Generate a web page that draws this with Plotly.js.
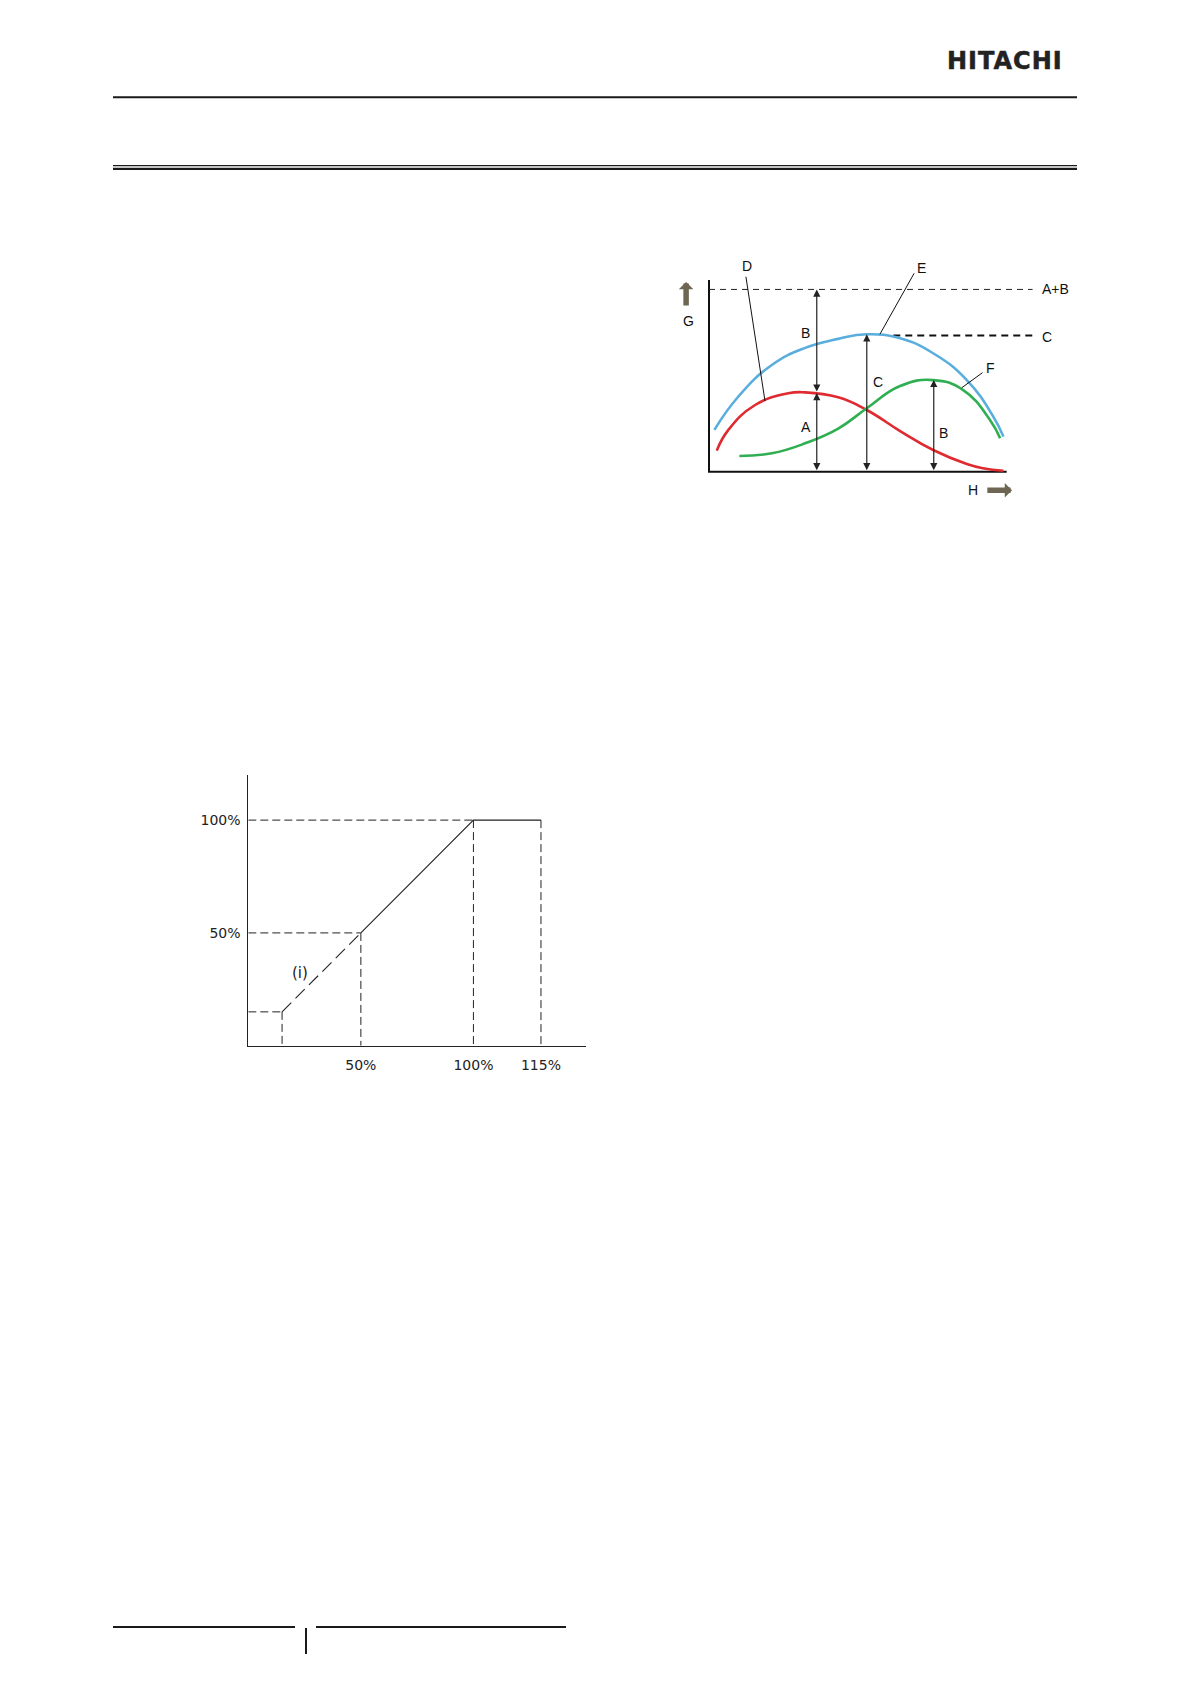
<!DOCTYPE html>
<html><head><meta charset="utf-8">
<script src="https://cdn.plot.ly/plotly-3.0.1.min.js"></script>
<style>
html,body{margin:0;padding:0;background:#fff;}
#page{width:1191px;height:1684px;}
text[data-unformatted="HITACHI"]{letter-spacing:1px;stroke:#222;stroke-width:0.5px;}
</style></head><body><div id="page"></div>
<script>
// ===== Chart 1 (G against H), schematic units: axes run 0..100 =====
const curveE_x = [1.8, 9.8, 21.1, 32.3, 43.4, 53.0, 64.2, 75.3, 86.6, 95.5, 98.9];
const curveE_y = [21.8, 39.1, 55.7, 64.6, 69.3, 71.7, 69.6, 61.8, 47.8, 28.7, 18.3];
const curveD_x = [2.6, 6.5, 15.5, 26.6, 32.3, 43.4, 53.0, 64.2, 75.3, 86.6, 92.1, 98.9];
const curveD_y = [11.0, 21.8, 34.8, 40.9, 41.4, 38.8, 32.2, 21.2, 11.3, 4.0, 1.8, 0.5];
const curveF_x = [10.2, 21.1, 32.3, 43.4, 53.0, 64.2, 75.3, 85.4, 94.4, 97.8];
const curveF_y = [8.2, 9.6, 14.8, 22.5, 33.1, 44.7, 47.8, 42.6, 27.0, 17.4];
const axisEnd = 100;
const levelAB = 95.1;            // dashed "A+B" level
const levelC = 71.0;             // dashed "C" level
const levelC_start = 61.9;
const levelEnd = 108.7;
// double-headed measurement arrows: x, from, to
const measX    = [36.2, 36.2, 53.0, 75.5];
const measFrom = [0, 41.0, 0, 0];
const measTo   = [41.0, levelAB, 71.7, 47.9];
// leader lines D, E, F (label end -> curve end)
const leadLabelX = [12.4, 68.9, 91.9];
const leadLabelY = [101.7, 103.5, 51.7];
const leadCurveX = [18.8, 57.4, 84.9];
const leadCurveY = [36.9, 71.7, 43.8];
// text labels
const c1Text = ['B', 'A', 'C', 'B', 'D', 'E', 'F', 'G', 'H'];
const c1TextX = [32.5, 32.5, 56.6, 78.8, 12.9, 71.3, 94.4, -6.9, 88.8];
const c1TextY = [72.2, 23.5, 47.0, 20.0, 107.3, 106.1, 54.3, 78.6, -9.6];
const sideText = ['A+B', 'C'];
const sideTextY = [levelAB, 70.4];
const sideTextX = 111.2;

// ===== Chart 2 (capacity control) =====
// x positions as drawn (115% sits at drawn position 130)
const ptX = [15, 50, 100, 130];
const ptY = [15, 50, 100, 100];
const xTickVals = [50, 100, 130];
const xTickText = ['50%', '100%', '115%'];
const yTickVals = [50, 100];
const yTickText = ['50%', '100%'];
const noteText = '(i)';
const noteX = 23.0, noteY = 32.2;

// ===== page geometry helpers =====
const W = 1191, H = 1684;
const px = v => v / W, py = v => 1 - v / H;

const traces = [];
// chart 1 axes (L shape)
traces.push({x: [0, 0, axisEnd], y: [axisEnd, 0, 0], xaxis: 'x', yaxis: 'y', mode: 'lines',
  line: {color: '#111', width: 2}, hoverinfo: 'skip'});
traces.push({x: [0, levelEnd], y: [levelAB, levelAB], xaxis: 'x', yaxis: 'y', mode: 'lines',
  line: {color: '#222', width: 1, dash: '6px,5px'}, hoverinfo: 'skip'});
traces.push({x: [levelC_start, levelEnd], y: [levelC, levelC], xaxis: 'x', yaxis: 'y', mode: 'lines',
  line: {color: '#111', width: 2, dash: '7px,5px'}, hoverinfo: 'skip'});
traces.push({x: curveE_x, y: curveE_y, xaxis: 'x', yaxis: 'y', mode: 'lines',
  line: {color: '#5aaede', width: 2.6, shape: 'spline', smoothing: 1.3}, hoverinfo: 'skip'});
traces.push({x: curveD_x, y: curveD_y, xaxis: 'x', yaxis: 'y', mode: 'lines',
  line: {color: '#df2a30', width: 2.6, shape: 'spline', smoothing: 1.3}, hoverinfo: 'skip'});
traces.push({x: curveF_x, y: curveF_y, xaxis: 'x', yaxis: 'y', mode: 'lines',
  line: {color: '#2fae52', width: 2.6, shape: 'spline', smoothing: 1.3}, hoverinfo: 'skip'});
// leaders
const lx = [], ly = [];
for (let i = 0; i < leadLabelX.length; i++) {
  lx.push(leadLabelX[i], leadCurveX[i], null);
  ly.push(leadLabelY[i], leadCurveY[i], null);
}
traces.push({x: lx, y: ly, xaxis: 'x', yaxis: 'y', mode: 'lines',
  line: {color: '#111', width: 1}, hoverinfo: 'skip'});

// chart 2 guide lines
const gx = [], gy = [];
for (let i = 0; i < ptX.length; i++) {
  if (i < 3) { gx.push(0, ptX[i], null); gy.push(ptY[i], ptY[i], null); }
  gx.push(ptX[i], ptX[i], null); gy.push(ptY[i], 0, null);
}
traces.push({x: gx, y: gy, xaxis: 'x2', yaxis: 'y2', mode: 'lines',
  line: {color: '#222', width: 1, dash: '8px,4px'}, hoverinfo: 'skip'});
traces.push({x: ptX.slice(0, 2), y: ptY.slice(0, 2), xaxis: 'x2', yaxis: 'y2', mode: 'lines',
  line: {color: '#222', width: 1.1, dash: '13px,6px'}, hoverinfo: 'skip'});
traces.push({x: ptX.slice(1), y: ptY.slice(1), xaxis: 'x2', yaxis: 'y2', mode: 'lines',
  line: {color: '#222', width: 1.1}, hoverinfo: 'skip'});

const annotations = [];
// measurement arrows
for (let i = 0; i < measX.length; i++) {
  annotations.push({xref: 'x', yref: 'y', axref: 'x', ayref: 'y',
    x: measX[i], y: measTo[i], ax: measX[i], ay: measFrom[i], text: '',
    showarrow: true, arrowside: 'end+start', arrowhead: 2, startarrowhead: 2,
    arrowsize: 1.2, startarrowsize: 1.2, arrowwidth: 1.2, arrowcolor: '#222',
    standoff: 0, startstandoff: 0});
}
for (let i = 0; i < c1Text.length; i++) {
  annotations.push({xref: 'x', yref: 'y', x: c1TextX[i], y: c1TextY[i], text: c1Text[i],
    showarrow: false, font: {family: 'Liberation Sans, Arial, sans-serif', size: 14, color: '#111'}});
}
for (let i = 0; i < sideText.length; i++) {
  annotations.push({xref: 'x', yref: 'y', x: sideTextX, y: sideTextY[i], text: sideText[i],
    xanchor: 'left', showarrow: false,
    font: {family: 'Liberation Sans, Arial, sans-serif', size: 14, color: '#111'}});
}
// block arrows next to G and H
annotations.push({xref: 'x', yref: 'y', axref: 'x', ayref: 'y', x: -7.7, y: 99.0, ax: -7.7, ay: 85.9,
  text: '', showarrow: true, arrowhead: 1, arrowsize: 0.44, arrowwidth: 5.5, arrowcolor: '#6e6652', standoff: 0});
annotations.push({xref: 'x', yref: 'y', axref: 'x', ayref: 'y', x: 101.8, y: -9.7, ax: 93.0, ay: -9.7,
  text: '', showarrow: true, arrowhead: 1, arrowsize: 0.44, arrowwidth: 5.5, arrowcolor: '#6e6652', standoff: 0});
// chart 2 note
annotations.push({xref: 'x2', yref: 'y2', x: noteX, y: noteY, text: noteText, showarrow: false,
  font: {family: 'DejaVu Sans, sans-serif', size: 15, color: '#222'}});
// header logo
annotations.push({xref: 'paper', yref: 'paper', x: px(945), y: py(61), xanchor: 'left', yanchor: 'middle',
  text: 'HITACHI', showarrow: false,
  font: {family: 'DejaVu Sans, sans-serif', size: 24, weight: 'bold', color: '#222'}});

const ln = (x0, y0, x1, y1, w) => ({type: 'line', xref: 'paper', yref: 'paper',
  x0: px(x0), y0: py(y0), x1: px(x1), y1: py(y1), line: {color: '#1a1a1a', width: w}});
const shapes = [
  ln(113, 97.3, 1077, 97.3, 2),
  ln(113, 165.7, 1077, 165.7, 1.3),
  ln(113, 168.9, 1077, 168.9, 2.2),
  ln(113, 1627, 295, 1627, 2),
  ln(306, 1628, 306, 1654, 2),
  ln(316, 1627, 566, 1627, 2)
];

const tickFont = {family: 'DejaVu Sans, sans-serif', size: 14, color: '#222'};
const layout = {
  width: W, height: H, autosize: false,
  margin: {l: 0, r: 0, t: 0, b: 0, pad: 0},
  paper_bgcolor: '#fff', plot_bgcolor: 'rgba(0,0,0,0)',
  showlegend: false,
  xaxis: {domain: [px(673.3), px(1081.1)], range: [-12, 125], visible: false, fixedrange: true},
  yaxis: {domain: [py(500.45), py(260.87)], range: [-15, 110], visible: false, fixedrange: true},
  xaxis2: {domain: [px(248.3), px(586)], range: [0, 150], anchor: 'y2',
    showline: true, linecolor: '#222', linewidth: 1, showgrid: false, zeroline: false,
    ticks: '', tickvals: xTickVals, ticktext: xTickText, tickfont: tickFont, ticklabelstandoff: 6},
  yaxis2: {domain: [py(1045.7), py(775)], range: [0, 120], anchor: 'x2',
    showline: true, linecolor: '#222', linewidth: 1, showgrid: false, zeroline: false,
    ticks: '', tickvals: yTickVals, ticktext: yTickText, tickfont: tickFont, ticklabelstandoff: 4},
  annotations: annotations,
  shapes: shapes
};
Plotly.newPlot('page', traces, layout, {staticPlot: true, displayModeBar: false});
</script>
</body></html>
